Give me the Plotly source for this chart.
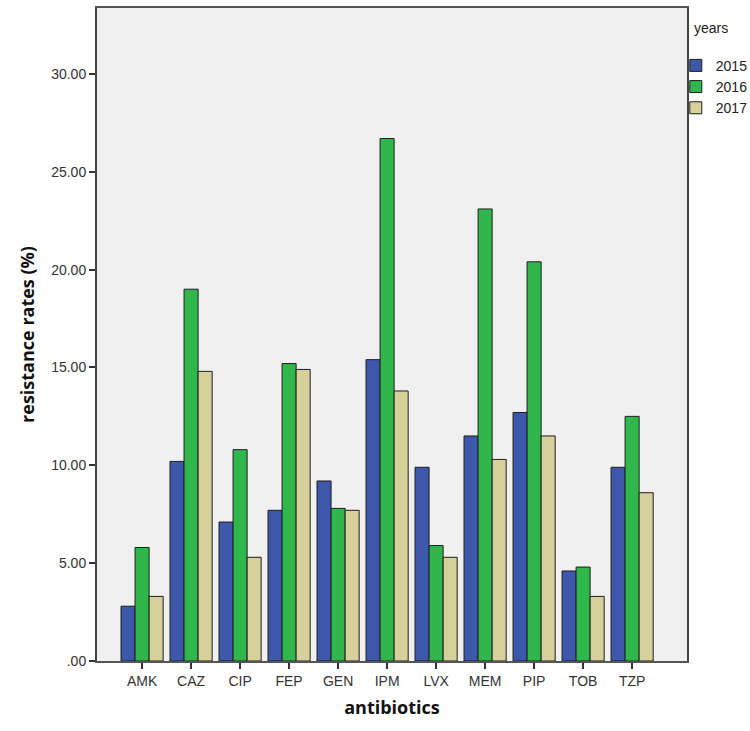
import plotly.graph_objects as go

categories = ["AMK", "CAZ", "CIP", "FEP", "GEN", "IPM", "LVX", "MEM", "PIP", "TOB", "TZP"]
years = ["2015", "2016", "2017"]
vals_2015 = [2.8, 10.2, 7.1, 7.7, 9.2, 15.4, 9.9, 11.5, 12.7, 4.6, 9.9]
vals_2016 = [5.8, 19.0, 10.8, 15.2, 7.8, 26.7, 5.9, 23.1, 20.4, 4.8, 12.5]
vals_2017 = [3.3, 14.8, 5.3, 14.9, 7.7, 13.8, 5.3, 10.3, 11.5, 3.3, 8.6]
y_tickvals = [0, 5, 10, 15, 20, 25, 30]
y_ticktext = [".00", "5.00", "10.00", "15.00", "20.00", "25.00", "30.00"]

colors = ["#3d57ab", "#30b74b", "#d6d09a"]
series = [vals_2015, vals_2016, vals_2017]

fig = go.Figure()
for name, vals, c in zip(years, series, colors):
    fig.add_trace(go.Bar(
        x=categories, y=vals, name=name,
        marker=dict(color=c, line=dict(color="#1e1e1e", width=1)),
    ))

fig.add_annotation(
    text="years", xref="paper", yref="paper", x=1.008, y=0.969,
    xanchor="left", yanchor="middle", showarrow=False,
    font=dict(size=14, color="#222"),
)

fig.update_layout(
    width=750, height=731,
    margin=dict(l=97, r=63, t=8, b=70, autoexpand=False),
    paper_bgcolor="white",
    plot_bgcolor="#f0f0f0",
    barmode="group",
    bargap=0.14,
    bargroupgap=0,
    font=dict(family="Liberation Sans, Arial, sans-serif", size=13, color="#222"),
    showlegend=True,
    legend=dict(
        x=0.981, y=0.936, xanchor="left", yanchor="top",
        bgcolor="rgba(0,0,0,0)",
        font=dict(size=14, color="#222"),
        tracegroupgap=0,
        itemwidth=30,
    ),
    xaxis=dict(
        type="category",
        range=[-0.92, 11.12],
        showgrid=False,
        ticks="outside", ticklen=6, tickwidth=1.5, tickcolor="#333",
        showline=True, linecolor="#555", linewidth=1.5, mirror=True,
        title=dict(text="antibiotics", font=dict(family="Open Sans, sans-serif", size=18, color="#111", weight="bold"), standoff=14),
        tickfont=dict(size=14, color="#333"),
    ),
    yaxis=dict(
        range=[0, 33.37],
        tickvals=y_tickvals, ticktext=y_ticktext,
        showgrid=False, zeroline=False,
        ticks="outside", ticklen=6, tickwidth=2, tickcolor="#333",
        showline=True, linecolor="#444", linewidth=2, mirror=True,
        title=dict(text="resistance rates (%)", font=dict(family="Open Sans, sans-serif", size=18, color="#111", weight="bold"), standoff=12),
        tickfont=dict(size=14, color="#333"),
    ),
)

fig.write_html("out.html", config={"displayModeBar": False},
               post_script="document.body.style.margin='0';")
